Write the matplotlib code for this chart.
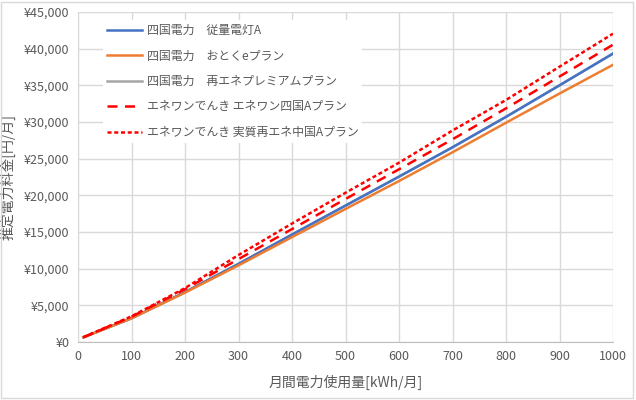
import matplotlib
matplotlib.use("Agg")
import matplotlib.pyplot as plt
from matplotlib.ticker import FuncFormatter, MultipleLocator
from matplotlib.patches import Rectangle

plt.rcParams['font.family'] = ['Noto Sans CJK JP', 'DejaVu Sans']

usage = [10, 100, 200, 300, 400, 500, 600, 700, 800, 900, 1000]
shikoku_juryo_a = [640, 3230, 6800, 10650, 14650, 18600, 22550, 26550, 30700, 35000, 39330]
shikoku_otoku_e = [640, 3230, 6730, 10450, 14300, 18140, 21950, 25870, 29900, 33880, 37800]
shikoku_premium = [640, 3230, 6800, 10650, 14650, 18600, 22550, 26550, 30700, 35000, 39330]
enewan_shikoku_a = [640, 3450, 7190, 11300, 15400, 19500, 23550, 27640, 31860, 36200, 40540]
enewan_jisshitsu = [660, 3500, 7350, 11860, 16150, 20350, 24450, 28840, 33000, 37540, 42040]

labels = ["四国電力　従量電灯A", "四国電力　おとくeプラン", "四国電力　再エネプレミアムプラン",
          "エネワンでんき エネワン四国Aプラン", "エネワンでんき 実質再エネ中国Aプラン"]

fig = plt.figure(figsize=(6.36, 4.0), dpi=100)
fig.patches.append(Rectangle((0.002, 0.004), 0.994, 0.992, transform=fig.transFigure,
                             fill=False, edgecolor='#d9d9d9', linewidth=1.0))
ax = fig.add_axes([78/636, (400-342)/400, 535/636, 330/400])

lw = 1.8
ax.plot(usage, shikoku_premium, color='#A5A5A5', lw=lw, label=labels[2], zorder=2)
ax.plot(usage, shikoku_juryo_a, color='#4472C4', lw=lw, label=labels[0], zorder=3)
ax.plot(usage, shikoku_otoku_e, color='#ED7D31', lw=lw, label=labels[1], zorder=4)
ax.plot(usage, enewan_shikoku_a, color='#FF0000', lw=lw, ls=(0, (4, 3)), label=labels[3], zorder=5)
ax.plot(usage, enewan_jisshitsu, color='#FF0000', lw=lw, ls=(0, (1.6, 1.1)), label=labels[4], zorder=6)

ax.set_xlim(0, 1000)
ax.set_ylim(0, 45000)
ax.xaxis.set_major_locator(MultipleLocator(100))
ax.yaxis.set_major_locator(MultipleLocator(5000))
ax.yaxis.set_major_formatter(FuncFormatter(lambda v, p: "¥{:,}".format(int(v))))
ax.grid(True, color='#d9d9d9', linewidth=1.0, zorder=0)
ax.set_axisbelow(True)
for s in ['top', 'right']:
    ax.spines[s].set_visible(False)
ax.spines['left'].set_color('#d9d9d9')
ax.spines['bottom'].set_color('#bfbfbf')
ax.tick_params(length=0, labelsize=9, colors='#595959', pad=6)

ax.set_xlabel("月間電力使用量[kWh/月]", fontsize=10, color='#595959', labelpad=8)
ax.set_ylabel("推定電力料金[円/月]", fontsize=10, color='#595959', labelpad=6)

h, l = ax.get_legend_handles_labels()
order = [1, 2, 0, 3, 4]
leg = ax.legend([h[i] for i in order], [l[i] for i in order], loc='upper left',
                bbox_to_anchor=(0.036, 0.993), fontsize=8.6, frameon=True, facecolor='white',
                edgecolor='none', framealpha=1, handlelength=2.95, handletextpad=0.4,
                labelspacing=1.05, borderpad=0.3)
for t in leg.get_texts():
    t.set_color('#595959')

fig.savefig("out.png", dpi=100)
